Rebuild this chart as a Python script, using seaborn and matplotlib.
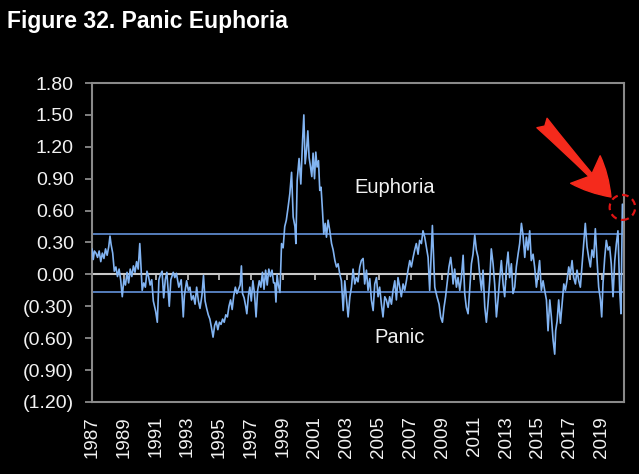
import matplotlib
matplotlib.use("Agg")
import matplotlib.pyplot as plt
import seaborn as sns
import pandas as pd
from matplotlib.patches import Ellipse

# ---- data ----
years = [
    1987.00, 1987.08, 1987.15, 1987.25, 1987.35, 1987.45, 1987.55, 1987.65, 1987.75, 1987.85,
    1987.95, 1988.05, 1988.13, 1988.20, 1988.30, 1988.40, 1988.50, 1988.60, 1988.70, 1988.80,
    1988.90, 1989.00, 1989.10, 1989.20, 1989.30, 1989.40, 1989.50, 1989.60, 1989.70, 1989.80,
    1989.90, 1990.00, 1990.05, 1990.15, 1990.25, 1990.35, 1990.45, 1990.55, 1990.65, 1990.75,
    1990.85, 1991.00, 1991.10, 1991.20, 1991.30, 1991.40, 1991.50, 1991.60, 1991.70, 1991.85,
    1991.95, 1992.10, 1992.20, 1992.30, 1992.45, 1992.60, 1992.73,
    1992.80, 1992.94, 1993.05, 1993.15, 1993.25, 1993.36, 1993.47, 1993.57, 1993.68, 1993.78,
    1993.90, 1994.00, 1994.10, 1994.20, 1994.30, 1994.40, 1994.50, 1994.60, 1994.70, 1994.80,
    1994.90, 1995.00, 1995.10, 1995.20, 1995.30, 1995.40, 1995.50, 1995.60, 1995.70, 1995.80,
    1995.90, 1996.00, 1996.10, 1996.20, 1996.30, 1996.38, 1996.45, 1996.55, 1996.65, 1996.72,
    1996.82, 1996.91, 1997.00, 1997.10, 1997.20, 1997.30, 1997.40, 1997.50, 1997.60, 1997.70,
    1997.80, 1997.90, 1998.00, 1998.10, 1998.20, 1998.30, 1998.40,
    1998.48, 1998.55, 1998.62, 1998.70, 1998.80, 1998.90, 1999.00, 1999.10, 1999.20, 1999.31,
    1999.42, 1999.53, 1999.63, 1999.74, 1999.80, 1999.88, 2000.00, 2000.11, 2000.22, 2000.30,
    2000.38, 2000.47, 2000.55, 2000.63, 2000.72, 2000.80, 2000.88, 2000.97, 2001.05, 2001.13,
    2001.22, 2001.30, 2001.38, 2001.47, 2001.55, 2001.64, 2001.72, 2001.82, 2001.93, 2002.04,
    2002.14, 2002.25, 2002.35, 2002.45, 2002.56, 2002.66, 2002.77, 2002.87, 2002.98, 2003.08,
    2003.19, 2003.29, 2003.39, 2003.50, 2003.60, 2003.70, 2003.81,
    2003.91, 2004.02, 2004.12, 2004.23, 2004.33, 2004.44, 2004.54, 2004.65, 2004.75, 2004.86,
    2004.96, 2005.06, 2005.17, 2005.27, 2005.38, 2005.48, 2005.59, 2005.69, 2005.80, 2005.90,
    2006.01, 2006.11, 2006.21, 2006.32, 2006.42, 2006.53, 2006.63, 2006.74, 2006.84, 2006.95,
    2007.05, 2007.16, 2007.26, 2007.36, 2007.47, 2007.57, 2007.68, 2007.78, 2007.89, 2007.99,
    2008.10, 2008.20, 2008.37, 2008.52, 2008.66, 2008.79, 2008.89, 2009.00, 2009.10, 2009.20,
    2009.31, 2009.41,
    2009.52, 2009.60, 2009.67, 2009.77, 2009.88, 2009.98, 2010.09, 2010.19, 2010.30, 2010.40,
    2010.50, 2010.61, 2010.71, 2010.82, 2010.92, 2011.03, 2011.13, 2011.24, 2011.34, 2011.45,
    2011.55, 2011.66, 2011.76, 2011.86, 2011.97, 2012.07, 2012.18, 2012.28, 2012.39, 2012.49,
    2012.60, 2012.70, 2012.81, 2012.91, 2013.02, 2013.12, 2013.22, 2013.33, 2013.43, 2013.54,
    2013.64, 2013.75, 2013.85, 2013.96, 2014.06, 2014.17, 2014.27, 2014.37, 2014.48, 2014.58,
    2014.69, 2014.79, 2014.90, 2015.00, 2015.10, 2015.21, 2015.32,
    2015.42, 2015.53, 2015.63, 2015.74, 2015.84, 2015.95, 2016.05, 2016.11, 2016.20, 2016.30,
    2016.41, 2016.51, 2016.62, 2016.72, 2016.82, 2016.93, 2017.03, 2017.14, 2017.24, 2017.35,
    2017.45, 2017.56, 2017.66, 2017.77, 2017.87, 2017.97, 2018.08, 2018.18, 2018.29, 2018.39,
    2018.50, 2018.60, 2018.71, 2018.81, 2018.92, 2019.00, 2019.08, 2019.19, 2019.29, 2019.40,
    2019.50, 2019.60, 2019.71, 2019.82, 2019.92, 2020.02, 2020.13, 2020.21, 2020.30,
]
values = [
    0.24, 0.14, 0.22, 0.20, 0.16, 0.22, 0.12, 0.20, 0.15, 0.24,
    0.18, 0.26, 0.36, 0.28, 0.20, 0.03, 0.07, -0.02, 0.05, -0.05,
    -0.21, -0.05, -0.10, 0.02, -0.08, 0.05, -0.02, 0.08, 0.02, 0.12,
    0.05, 0.29, 0.15, -0.15, -0.08, -0.12, 0.03, -0.02, -0.10, -0.05,
    -0.25, -0.35, -0.45, -0.05, 0.00, 0.03, -0.22, -0.05, 0.02, -0.30,
    -0.05, 0.02, -0.03, 0.01, -0.12, -0.05, -0.40,
    -0.20, -0.06, -0.15, -0.12, -0.24, -0.20, -0.28, -0.12, -0.25, -0.32,
    -0.20, -0.01, -0.25, -0.32, -0.38, -0.42, -0.50, -0.59, -0.48, -0.44,
    -0.52, -0.45, -0.47, -0.42, -0.45, -0.38, -0.40, -0.30, -0.24, -0.33,
    -0.20, -0.12, -0.18, -0.14, -0.10, 0.08, -0.18, -0.22, -0.30, -0.37,
    -0.20, -0.12, -0.25, -0.06, -0.18, -0.40, -0.15, -0.06, -0.12, 0.02,
    -0.14, 0.04, -0.10, 0.05, -0.02, 0.04, -0.08,
    -0.08, -0.26, 0.00, -0.10, -0.17, 0.29, 0.25, 0.45, 0.51, 0.63,
    0.76, 0.96, 0.54, 0.45, 0.29, 0.88, 1.09, 0.85, 1.26, 1.50,
    1.04, 1.17, 1.35, 1.10, 1.01, 0.92, 1.14, 0.90, 1.15, 1.01,
    1.07, 0.79, 0.82, 0.60, 0.38, 0.48, 0.35, 0.51, 0.41, 0.29,
    0.23, 0.13, 0.07, 0.10, 0.00, -0.06, -0.34, -0.06, -0.24, -0.40,
    -0.21, -0.12, 0.05, -0.09, -0.03, -0.07, 0.07,
    0.13, 0.15, -0.09, 0.04, -0.15, -0.04, -0.24, -0.34, -0.09, -0.03,
    -0.21, -0.12, -0.28, -0.40, -0.21, -0.24, -0.31, -0.21, -0.28, -0.15,
    -0.06, -0.24, -0.03, -0.12, -0.21, -0.09, -0.15, -0.06, 0.04, 0.13,
    0.07, 0.16, 0.23, 0.29, 0.19, 0.32, 0.29, 0.41, 0.35, 0.26,
    0.16, -0.15, 0.46, -0.12, -0.21, -0.28, -0.40, -0.45, -0.31, -0.21,
    -0.06, 0.07,
    0.16, 0.05, -0.09, 0.05, -0.12, -0.03, -0.15, -0.03, 0.18, -0.18,
    -0.31, -0.37, -0.15, 0.10, 0.19, 0.37, 0.23, 0.16, 0.00, -0.15,
    0.04, -0.31, -0.45, -0.28, -0.06, 0.24, 0.10, -0.09, -0.40, -0.24,
    -0.03, 0.13, -0.09, -0.21, 0.07, 0.21, -0.03, 0.10, -0.18, -0.12,
    0.07, 0.19, 0.29, 0.48, 0.37, 0.16, 0.35, 0.23, 0.41, 0.13,
    0.19, 0.07, -0.12, 0.00, 0.13, -0.15, -0.06,
    -0.15, -0.24, -0.53, -0.24, -0.40, -0.62, -0.75, -0.53, -0.44, -0.24,
    -0.46, -0.28, -0.09, -0.15, -0.06, 0.07, 0.00, 0.13, -0.03, -0.09,
    0.04, -0.06, -0.12, 0.10, 0.29, 0.48, 0.26, 0.16, 0.07, 0.23,
    0.16, 0.43, 0.13, -0.12, -0.24, -0.40, -0.09, 0.16, 0.32, 0.23,
    0.26, 0.10, -0.21, 0.13, 0.29, 0.41, -0.15, -0.37, 0.66,
]
tick_years = list(range(1987, 2020, 2))
y_ticks = [-1.2, -0.9, -0.6, -0.3, 0.0, 0.3, 0.6, 0.9, 1.2, 1.5, 1.8]
euphoria_level = 0.38
panic_level = -0.17
title = "Figure 32. Panic Euphoria"
label_top = "Euphoria"
label_bottom = "Panic"


def fmt(v):
    if v < -1e-9:
        return "({:.2f})".format(-v)
    return "{:.2f}".format(abs(v))


sns.set_theme(style="ticks")
plt.rcParams['font.family'] = ['Liberation Sans', 'DejaVu Sans']

W, H = 639, 474
fig = plt.figure(figsize=(W / 100, H / 100), dpi=100, facecolor='black')
ax = fig.add_axes([92 / W, 1 - 402 / H, (624 - 92) / W, (402 - 83) / H])
ax.set_facecolor('black')

df = pd.DataFrame({'year': years, 'value': values})

ax.axhline(0, color='#c8c8c8', lw=1.5, zorder=1)
ax.plot(tick_years, [0] * len(tick_years), linestyle='none', marker=3,
        markersize=4, markeredgewidth=1.2, color='#c8c8c8', zorder=1)
ax.axhline(euphoria_level, color='#5b87c9', lw=1.3, zorder=2)
ax.axhline(panic_level, color='#5b87c9', lw=1.3, zorder=2)

sns.lineplot(data=df, x='year', y='value', ax=ax, color='#82b4f2',
             linewidth=1.2, estimator=None, sort=False, zorder=3)

ax.set_xlim(1987, 2020.4)
ax.set_ylim(-1.2, 1.8)
ax.set_yticks(y_ticks)
ax.set_yticklabels([fmt(v) for v in y_ticks])
ax.set_xticks(tick_years)
ax.set_xticklabels([str(y) for y in tick_years], rotation=90)
ax.set_xlabel('')
ax.set_ylabel('')

for s in ax.spines.values():
    s.set_visible(True)
    s.set_color('#8a8a8a')
    s.set_linewidth(1.5)

ax.tick_params(axis='y', colors='#8a8a8a', labelcolor='#f2f2f2', labelsize=14,
               length=5, width=1.3, pad=8, direction='out')
ax.tick_params(axis='x', length=0, labelcolor='#f2f2f2', labelsize=13.5, pad=10)

ax.text(2006.0, 0.82, label_top, ha='center', va='center', color='#f2f2f2', fontsize=14.5)
ax.text(2006.3, -0.59, label_bottom, ha='center', va='center', color='#f2f2f2', fontsize=14.5)

fig.text(7 / W, 1 - 28 / H, title, fontsize=16.5, fontweight='bold',
         family=['Liberation Sans', 'DejaVu Sans'],
         ha='left', va='baseline', color='white')

ax.annotate('', xy=(611, H - 197), xytext=(542, H - 123),
            xycoords='figure pixels', textcoords='figure pixels',
            arrowprops=dict(arrowstyle='fancy,head_length=27,head_width=29,tail_width=10',
                            mutation_scale=1, color='#f52a1c', shrinkA=0, shrinkB=0))

circ = Ellipse((2020.3, 0.63), width=1.6, height=0.235, fill=False,
               edgecolor='#e01414', lw=1.6, linestyle=(0, (3, 2)), clip_on=False, zorder=5)
ax.add_patch(circ)

fig.savefig('out.png', dpi=100, facecolor='black')
